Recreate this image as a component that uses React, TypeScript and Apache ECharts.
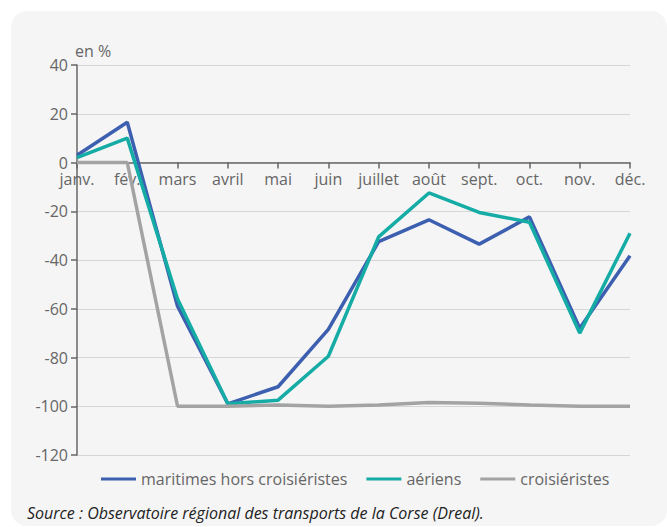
import React, { useEffect, useRef } from "react";
import * as echarts from "echarts";

const months = ["janv.", "fév.", "mars", "avril", "mai", "juin", "juillet", "août", "sept.", "oct.", "nov.", "déc."];
const maritimes = [3, 16.5, -59, -99, -92, -68.5, -32.5, -23.5, -33.5, -22.3, -68, -38.3];
const aeriens = [2, 10, -56, -99, -97.5, -79.5, -30.5, -12.5, -20.5, -24.5, -70, -29];
const croisieristes = [0, 0, -100, -100, -99.5, -100, -99.5, -98.5, -98.8, -99.5, -100, -100];
const seriesNames = ["maritimes hors croisiéristes", "aériens", "croisiéristes"];
const colors = ["#3c5fb0", "#16aca6", "#a3a3a3"];
const yTicks = { min: -120, max: 40, interval: 20 };

const FONT = "'Open Sans', sans-serif";
const GRID_TOP = 65;
const GRID_HEIGHT = 390;

export default function App() {
  const ref = useRef<HTMLDivElement>(null);
  useEffect(() => {
    if (!ref.current) return;
    const chart = echarts.init(ref.current, undefined, { renderer: "svg" });
    const lineSeries = [maritimes, aeriens, croisieristes].map((d, i) => ({
      name: seriesNames[i],
      type: "line",
      data: d,
      symbol: "none",
      lineStyle: { width: 3.5, color: colors[i] },
      itemStyle: { color: colors[i] },
    }));
    // distance from bottom of grid to the zero line
    const zeroOffset = (GRID_HEIGHT * (0 - yTicks.min)) / (yTicks.max - yTicks.min);
    chart.setOption({
      animation: false,
      textStyle: { fontFamily: FONT },
      graphic: [
        {
          type: "rect",
          z: -10,
          silent: true,
          shape: { x: 11, y: 11, width: 656, height: 515, r: 16 },
          style: { fill: "#f5f5f5" },
        },
        {
          type: "text",
          x: 75,
          y: 51,
          style: { text: "en %", fill: "#666", fontSize: 16, fontFamily: FONT, verticalAlign: "middle" },
        },
        {
          type: "text",
          x: 27,
          y: 513,
          style: {
            text: "Source : Observatoire régional des transports de la Corse (Dreal).",
            fill: "#222",
            fontSize: 16,
            fontStyle: "italic",
            fontFamily: FONT,
            verticalAlign: "middle",
          },
        },
      ],
      grid: { left: 77, right: 37, top: GRID_TOP, height: GRID_HEIGHT, containLabel: false },
      legend: {
        left: 101,
        top: 471,
        padding: 0,
        icon: "rect",
        itemWidth: 35,
        itemHeight: 3,
        itemGap: 19,
        textStyle: { color: "#666", fontSize: 16, fontFamily: FONT, padding: [0, 0, 0, 0] },
        data: seriesNames,
      },
      xAxis: {
        type: "category",
        data: months,
        boundaryGap: false,
        offset: -zeroOffset,
        axisLine: { onZero: false, lineStyle: { color: "#666", width: 1.5 } },
        axisTick: { show: true, length: 6, lineStyle: { color: "#666", width: 1.5 } },
        axisLabel: { color: "#666", fontSize: 16, fontFamily: FONT, margin: 8, interval: 0 },
        splitLine: { show: false },
      },
      yAxis: {
        type: "value",
        min: yTicks.min,
        max: yTicks.max,
        interval: yTicks.interval,
        axisLine: { show: true, lineStyle: { color: "#666", width: 1.5 } },
        axisTick: { show: true, length: 6, lineStyle: { color: "#666", width: 1.5 } },
        axisLabel: { color: "#666", fontSize: 16, fontFamily: FONT, margin: 9 },
        splitLine: { show: true, lineStyle: { color: "#d6d6d6", width: 1 } },
      },
      series: lineSeries,
    });
    return () => chart.dispose();
  }, []);
  return (
    <div style={{ position: "absolute", left: 0, top: 0, width: 667, height: 527, background: "#fff" }}>
      <div ref={ref} style={{ width: 667, height: 527 }} />
    </div>
  );
}
